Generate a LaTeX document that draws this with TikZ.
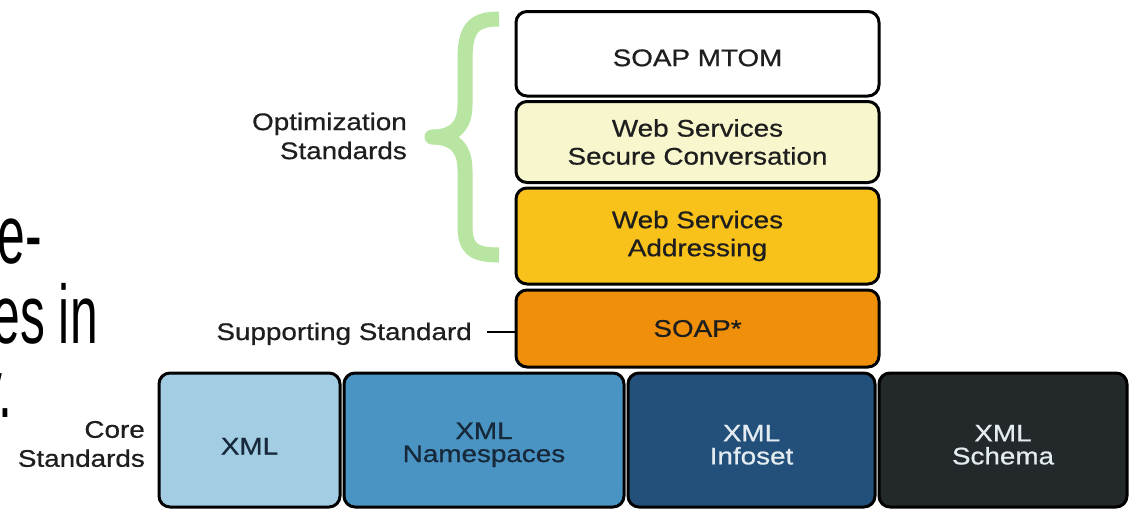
\documentclass[tikz,border=0pt]{standalone}
\usepackage{fontspec}
\setmainfont{Liberation Sans}
\newfontfamily\labfont[FakeStretch=1.16,FakeBold=0.7]{Liberation Sans}
\newfontfamily\bigtxt[FakeStretch=0.6]{Liberation Sans}
\definecolor{cMtom}{HTML}{FFFFFF}
\definecolor{cSec}{HTML}{F8F6CC}
\definecolor{cAddr}{HTML}{F9C21B}
\definecolor{cSoap}{HTML}{F0900A}
\definecolor{cXml}{HTML}{A2CDE3}
\definecolor{cNs}{HTML}{4A94C4}
\definecolor{cInfo}{HTML}{22507A}
\definecolor{cSchema}{HTML}{23282B}
\definecolor{cBrace}{HTML}{B8E6A2}
\definecolor{cTxt}{HTML}{1E1E1E}
\definecolor{cNavy}{HTML}{16283A}
\definecolor{cLight}{HTML}{E4ECF2}
\newcommand{\lift}[1]{\rule{0pt}{#1}}
\begin{document}
\begin{tikzpicture}[x=1pt,y=-1pt,
  box/.style={draw=black, line width=3pt, rounded corners=11pt, inner sep=0pt,
    align=center, text=cTxt, font=\labfont\fontsize{24}{28}\selectfont},
  stack/.style={box, minimum width=363pt},
  core/.style={box, minimum height=134pt, font=\labfont\fontsize{24}{23}\selectfont},
  lbl/.style={inner sep=0pt, align=right, text=cTxt, font=\labfont\fontsize{24}{29}\selectfont},
  bigl/.style={inner sep=0pt, anchor=base east, text=black, font=\bigtxt\fontsize{83}{83}\selectfont},
  bracestyle/.style={draw=cBrace, line width=15pt, line cap=butt, line join=round}]
\useasboundingbox (0,0) rectangle (1132,509);
\clip (0,0) rectangle (1132,509);
\fill[white] (0,0) rectangle (1132,509);

% partial slide text
\node[bigl] (t1) at (42,263) {e-};
\node[bigl] (t2) at (98,343) {es in};
\node[bigl] (t3) at (13,417) {y.};

% stack
\node[stack, fill=cMtom, minimum height=84.5pt] (mtom) at (697.5,53.75) {\lift{25pt}SOAP MTOM};
\node[stack, fill=cSec, minimum height=81pt] (sec) at (697.5,142) {Web Services\\Secure Conversation};
\node[stack, fill=cAddr, minimum height=96pt] (addr) at (697.5,236) {Web Services\\Addressing};
\node[stack, fill=cSoap, minimum height=77pt] (soap) at (697.5,328.5) {SOAP*};

% core row
\node[core, fill=cXml, minimum width=181pt, text=cNavy] (xml) at (249.5,440) {\lift{29pt}XML};
\node[core, fill=cNs, minimum width=280pt, text=cNavy] (ns) at (484,440) {\lift{26pt}XML\\Namespaces};
\node[core, fill=cInfo, minimum width=247pt, text=cLight] (info) at (751.5,440) {\lift{26pt}XML\\Infoset};
\node[core, fill=cSchema, minimum width=248pt, text=cLight] (schema) at (1003,440) {\lift{26pt}XML\\Schema};

% labels
\node[lbl, anchor=east] (opt) at (407,136) {Optimization\\Standards};
\node[lbl, anchor=base east] (supl) at (472,340) {Supporting Standard};
\node[lbl, anchor=east] (corel) at (145,444) {Core\\Standards};

% brace
\draw[bracestyle] (499,19) .. controls (472,19) and (465,30) .. (465,60) -- (465,105)
  .. controls (465,125) and (455,137) .. (432,137)
  .. controls (455,137) and (465,149) .. (465,170) -- (465,225)
  .. controls (465,248) and (472,255) .. (499,255);

% supporting connector
\coordinate (suptick) at (487,332);
\draw[line width=2.5pt, black] (suptick) -- (suptick -| soap.west);
\end{tikzpicture}
\end{document}
